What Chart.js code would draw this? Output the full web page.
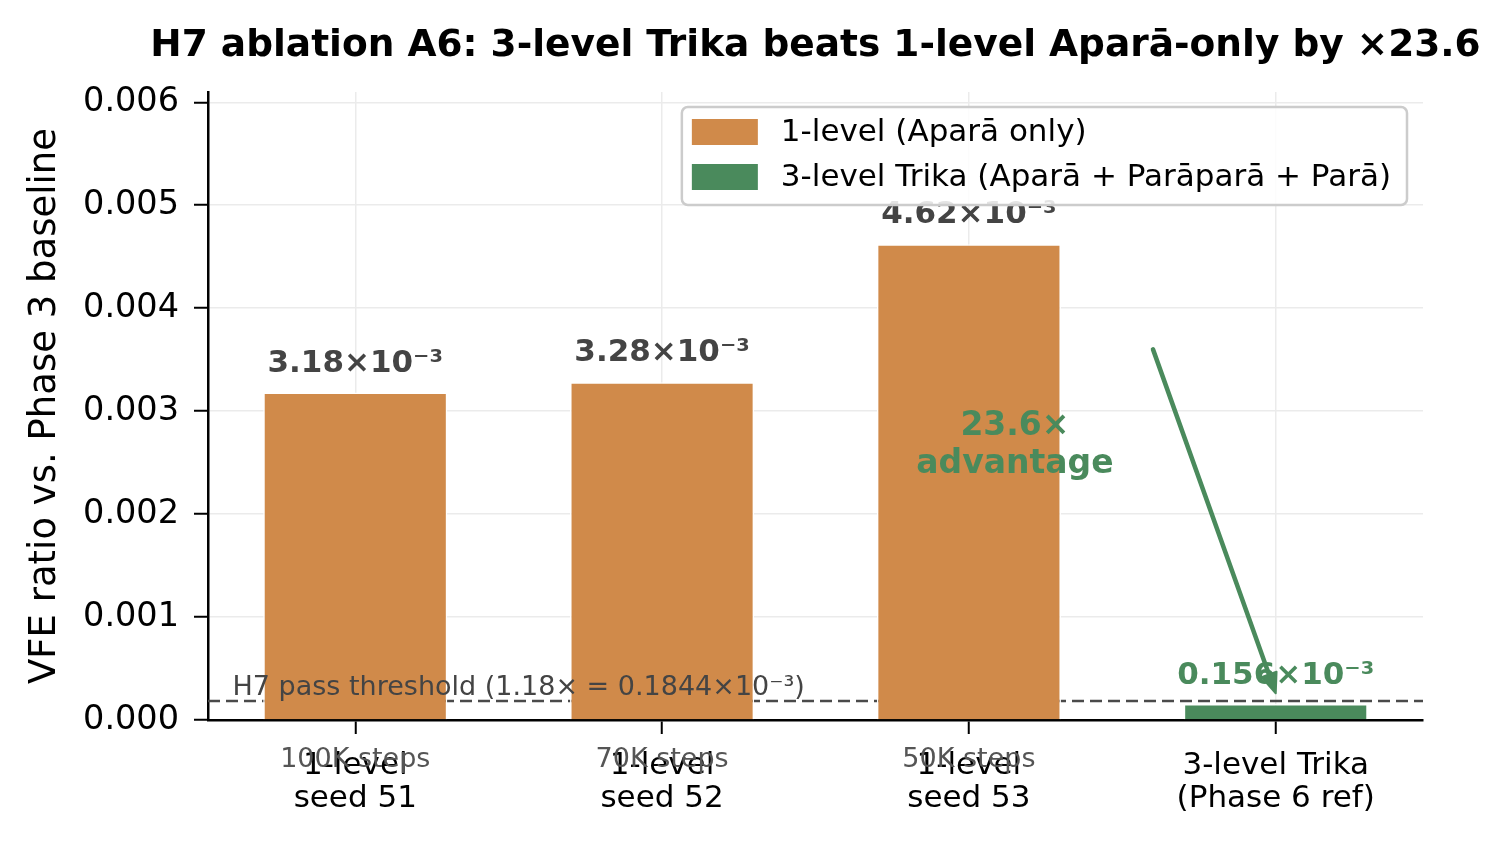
<!DOCTYPE html>
<html>
<head>
<meta charset="utf-8">
<script src="https://cdn.jsdelivr.net/npm/chart.js@4.4.1/dist/chart.umd.min.js"></script>
<style>
  html, body { margin: 0; padding: 0; background: #fff; }
  #wrap { width: 1510px; height: 843px; }
</style>
</head>
<body>
<div id="wrap"><canvas id="chart"></canvas></div>
<script>
// data
const categories = [['1-level', 'seed 51'], ['1-level', 'seed 52'], ['1-level', 'seed 53'], ['3-level Trika', '(Phase 6 ref)']];
const stepNotes = ['100K steps', '70K steps', '50K steps'];
const oneLevel = [0.00318, 0.00328, 0.00462];
const trika = [0.000156];
const yTicks = [0, 0.001, 0.002, 0.003, 0.004, 0.005, 0.006];
const threshold = 0.0001844;
const thresholdRatio = 1.18;
const advantage = 23.6;
const arrowFrom = [2.6, 0.0036];
const arrowTo = [3.0, 0.00026];
const advantagePos = [2.15, 0.0027];

const ORANGE = '#d08a4a';
const GREEN = '#4a8a5c';
const FONT = "'DejaVu Sans', sans-serif";
const TITLE = 'H7 ablation A6: 3-level Trika beats 1-level Aparā-only by ×' + advantage.toFixed(1);

// extra drawing: title, threshold, value labels, notes, arrow, legend
const extras = {
  id: 'extras',
  beforeDraw(chart) {
    const c = chart.ctx, a = chart.chartArea;
    c.save();
    c.fillStyle = '#fff';
    c.fillRect(0, 0, chart.width, chart.height);
    c.font = 'bold 37.5px ' + FONT;
    c.fillStyle = '#000';
    c.textAlign = 'center';
    c.textBaseline = 'middle';
    c.fillText(TITLE, (a.left + a.right) / 2, 46);
    c.restore();
  },
  beforeDatasetsDraw(chart) {
    const c = chart.ctx, a = chart.chartArea, y = chart.scales.y;
    const ty = y.getPixelForValue(threshold);
    c.save();
    c.strokeStyle = '#4a4a4a';
    c.lineWidth = 2.6;
    c.setLineDash([12, 6]);
    c.beginPath();
    c.moveTo(a.left, ty);
    c.lineTo(a.right, ty);
    c.stroke();
    c.restore();
  },
  afterDatasetsDraw(chart) {
    const c = chart.ctx, a = chart.chartArea;
    const x = chart.scales.x, y = chart.scales.y;
    c.save();

    // value labels
    c.textAlign = 'center';
    c.textBaseline = 'middle';
    c.font = 'bold 31px ' + FONT;
    c.fillStyle = '#444';
    oneLevel.forEach((v, i) => {
      c.fillText((v * 1000).toFixed(2) + '×10⁻³', x.getPixelForValue(i), y.getPixelForValue(v) - 29);
    });
    c.fillStyle = GREEN;
    trika.forEach((v, i) => {
      c.fillText((v * 1000).toFixed(3) + '×10⁻³', x.getPixelForValue(oneLevel.length + i), y.getPixelForValue(v) - 28);
    });

    // threshold label
    c.textAlign = 'left';
    c.font = '27px ' + FONT;
    c.fillStyle = '#444';
    c.fillText('H7 pass threshold (' + thresholdRatio.toFixed(2) + '× = ' + (threshold * 1000).toFixed(4) + '×10⁻³)',
      x.getPixelForValue(-0.4), y.getPixelForValue(threshold) - 13);

    // advantage text
    c.textAlign = 'center';
    c.font = 'bold 33px ' + FONT;
    c.fillStyle = GREEN;
    const ax = x.getPixelForValue(advantagePos[0]), ay = y.getPixelForValue(advantagePos[1]);
    c.fillText(advantage.toFixed(1) + '×', ax, ay - 16);
    c.fillText('advantage', ax, ay + 22);

    // arrow
    const x0 = x.getPixelForValue(arrowFrom[0]), y0 = y.getPixelForValue(arrowFrom[1]);
    const x1 = x.getPixelForValue(arrowTo[0]), y1 = y.getPixelForValue(arrowTo[1]);
    const ang = Math.atan2(y1 - y0, x1 - x0);
    const hl = 20, hw = 8;
    const bx = x1 - hl * Math.cos(ang), by = y1 - hl * Math.sin(ang);
    c.strokeStyle = GREEN;
    c.fillStyle = GREEN;
    c.lineWidth = 4.5;
    c.lineCap = 'round';
    c.beginPath();
    c.moveTo(x0, y0);
    c.lineTo(bx, by);
    c.stroke();
    c.beginPath();
    c.moveTo(x1, y1);
    c.lineTo(bx + hw * Math.sin(ang), by - hw * Math.cos(ang));
    c.lineTo(bx - hw * Math.sin(ang), by + hw * Math.cos(ang));
    c.closePath();
    c.lineJoin = 'round';
    c.lineWidth = 2;
    c.fill();
    c.stroke();

    // step notes under the axis
    c.font = '27px ' + FONT;
    c.fillStyle = '#555';
    c.textAlign = 'center';
    stepNotes.forEach((s, i) => {
      c.fillText(s, x.getPixelForValue(i), a.bottom + 40);
    });

    // legend
    c.font = '31px ' + FONT;
    const sets = chart.data.datasets;
    const tw = Math.max(...sets.map(d => c.measureText(d.label).width));
    const bw = 99 + tw + 16, bh = 98;
    const lx = a.right - 16 - bw, ly = a.top + 15;
    c.beginPath();
    c.roundRect(lx, ly, bw, bh, 6);
    c.fillStyle = 'rgba(255,255,255,0.85)';
    c.fill();
    c.strokeStyle = '#cccccc';
    c.lineWidth = 2.5;
    c.stroke();
    c.textAlign = 'left';
    sets.forEach((d, i) => {
      const cy = ly + 25 + i * 45;
      c.fillStyle = d.backgroundColor;
      c.fillRect(lx + 10, cy - 13, 66, 26);
      c.fillStyle = '#000';
      c.fillText(d.label, lx + 99, cy + 1);
    });
    c.restore();
  }
};

new Chart(document.getElementById('chart'), {
  type: 'bar',
  data: {
    datasets: [{
      label: '1-level (Aparā only)',
      data: oneLevel.map((v, i) => ({x: i, y: v})),
      backgroundColor: ORANGE,
      borderColor: '#fff',
      borderWidth: 1.5,
      grouped: false,
      categoryPercentage: 1,
      barPercentage: 0.6
    }, {
      label: '3-level Trika (Aparā + Parāparā + Parā)',
      data: trika.map((v, i) => ({x: oneLevel.length + i, y: v})),
      backgroundColor: GREEN,
      borderColor: '#fff',
      borderWidth: 1.5,
      grouped: false,
      categoryPercentage: 1,
      barPercentage: 0.6
    }]
  },
  options: {
    responsive: true,
    maintainAspectRatio: false,
    devicePixelRatio: 1,
    animation: false,
    layout: { padding: { left: 0, right: 87, top: 92, bottom: 0 } },
    plugins: {
      legend: { display: false },
      tooltip: { enabled: false },
      title: { display: false }
    },
    scales: {
      x: {
        type: 'linear',
        offset: false,
        min: -0.48,
        max: 3.48,
        afterBuildTicks: s => { s.ticks = categories.map((_, i) => ({value: i})); },
        afterFit: s => { s.height = 123; },
        ticks: {
          callback: v => categories[v],
          color: '#000',
          font: { family: FONT, size: 31, lineHeight: 1.07 },
          padding: 15,
          maxRotation: 0,
          autoSkip: false
        },
        grid: { offset: false, color: '#ebebeb', lineWidth: 1.5, tickColor: '#000', tickLength: 14, tickWidth: 2 },
        border: { display: true, color: '#000', width: 2.5 }
      },
      y: {
        min: 0,
        max: 0.0061,
        afterBuildTicks: s => { s.ticks = yTicks.map(v => ({value: v})); },
        afterFit: s => { s.width = 208; },
        ticks: {
          callback: v => v.toFixed(3),
          color: '#000',
          font: { family: FONT, size: 33.5 },
          padding: 15
        },
        grid: { color: '#ebebeb', lineWidth: 1.5, tickColor: '#000', tickLength: 14, tickWidth: 2 },
        border: { display: true, color: '#000', width: 2.5 },
        title: {
          display: true,
          text: 'VFE ratio vs. Phase 3 baseline',
          color: '#000',
          font: { family: FONT, size: 37, lineHeight: 1.2 },
          padding: { top: 23, bottom: 0 }
        }
      }
    }
  },
  plugins: [extras]
});
</script>
</body>
</html>
